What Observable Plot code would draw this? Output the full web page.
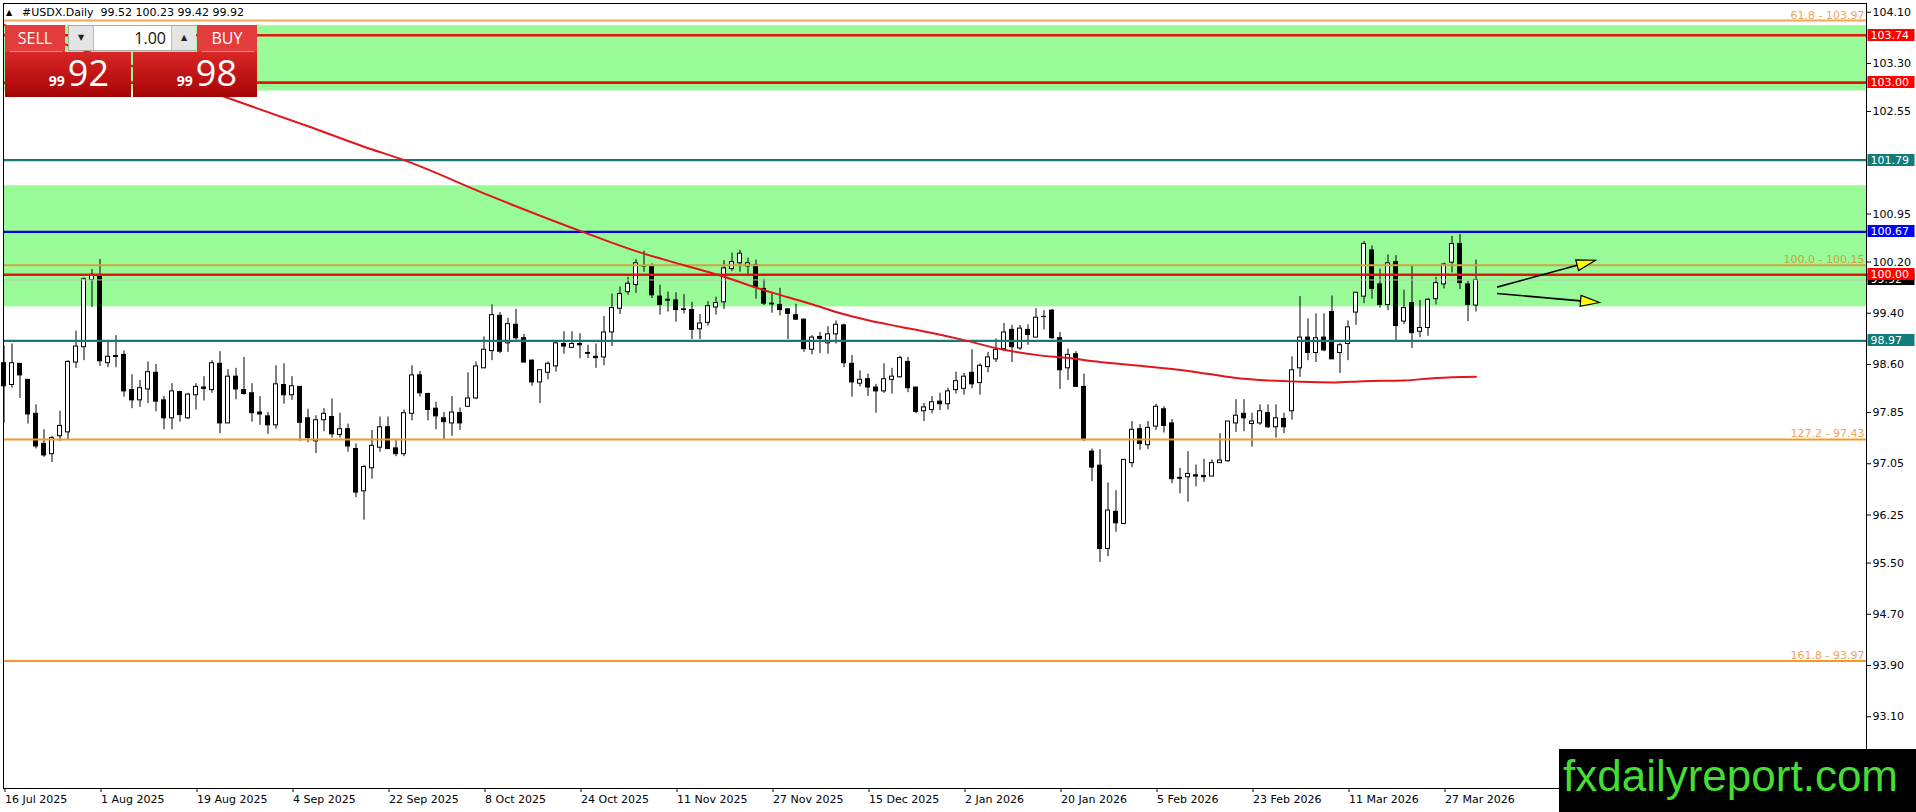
<!DOCTYPE html>
<html>
<head>
<meta charset="utf-8">
<script src="https://cdn.jsdelivr.net/npm/d3@7"></script>
<script src="https://cdn.jsdelivr.net/npm/@observablehq/plot@0.6"></script>
<style>
  html, body { margin: 0; padding: 0; background: #fff; overflow: hidden; }
  #wrap { position: relative; width: 1916px; height: 812px; overflow: hidden; }
  #chart { position: absolute; left: 0; top: 0; }
  #hdr { position: absolute; left: 6px; top: 6px; font: 11px "DejaVu Sans"; line-height: 14px; white-space: pre; color: #000; }
  #hdr .tri { font-size: 8px; display: inline-block; width: 16px; vertical-align: 1px; }
  #panel { position: absolute; left: 5px; top: 25px; width: 252px; height: 72px; }
  .hd { position: absolute; top: 0; height: 27px; width: 60px; background: #e23c3c; color: #fff; font: 16px "Open Sans"; line-height: 26px; text-align: center; }
  .hd .sep { position: absolute; left: 5px; right: 3px; bottom: 0; height: 1px; background: #f08a8a; }
  #lot { position: absolute; left: 63px; top: 0; width: 128px; height: 26px; background: #fff; border: 1px solid #a8a8a8; box-sizing: border-box; }
  #lot .btn { position: absolute; top: 0; width: 24px; height: 24px; background: #e4e4e4; font: 8px "DejaVu Sans"; line-height: 24px; text-align: center; color: #222; }
  #lot .fld { position: absolute; left: 25px; top: 0; width: 72px; height: 24px; text-align: right; font: 16px "Open Sans"; line-height: 24px; color: #111; }
  .big { position: absolute; top: 27px; height: 45px; background: linear-gradient(#da2626, #a60404); color: #fff; text-align: right; font: 36px "Open Sans"; line-height: 40px; box-sizing: border-box; padding-top: 1px; }
  .big .sm { font: bold 14px "Open Sans"; margin-right: 3px; }
  #logo { position: absolute; left: 1559px; top: 749px; width: 357px; height: 63px; background: #000; }
  #logo span { position: absolute; left: 4px; top: 5px; font: 44px "Liberation Sans"; line-height: 44px; color: #44dd33; white-space: nowrap; }
</style>
</head>
<body>
<div id="wrap">
  <div id="chart"></div>
  <div id="hdr"></div>
  <div id="panel">
    <div class="hd" style="left:0">SELL<div class="sep"></div></div>
    <div id="lot">
      <div class="btn" style="left:0;border-right:1px solid #bbb">▼</div>
      <div class="fld" id="lotv"></div>
      <div class="btn" style="left:102px;border-left:1px solid #bbb">▲</div>
    </div>
    <div class="hd" style="left:192px">BUY<div class="sep"></div></div>
    <div class="big" style="left:0;width:126px;padding-right:22px"><span class="sm" id="bidA"></span><span id="bidB"></span></div>
    <div class="big" style="left:128px;width:124px;padding-right:20px"><span class="sm" id="askA"></span><span id="askB"></span></div>
  </div>
  <div id="logo"><span>fxdailyreport.com</span></div>
</div>
<script>
// ---------------- DATA ----------------
const symbol = "#USDX.Daily";
const lotSize = 1.00;
const bidPrice = 99.92;
const askPrice = 99.98;

const xTickBars = [0, 12, 24, 36, 48, 60, 72, 84, 96, 108, 120, 132, 144, 156, 168, 180];
const xTickLabels = ["16 Jul 2025", "1 Aug 2025", "19 Aug 2025", "4 Sep 2025", "22 Sep 2025", "8 Oct 2025",
  "24 Oct 2025", "11 Nov 2025", "27 Nov 2025", "15 Dec 2025", "2 Jan 2026", "20 Jan 2026",
  "5 Feb 2026", "23 Feb 2026", "11 Mar 2026", "27 Mar 2026"];
const yTicks = [104.10, 103.30, 102.55, 100.95, 100.20, 99.40, 98.60, 97.85, 97.05, 96.25, 95.50, 94.70, 93.90, 93.10];

const open = [
  98.62, 98.28, 98.61, 98.36, 97.83, 97.36, 97.20, 97.48, 97.54, 98.63,
  98.87, 99.92, 99.99, 98.62, 98.73, 98.75, 98.20, 98.04, 98.21, 98.47,
  98.04, 97.76, 98.17, 97.76, 98.12, 98.24, 98.20, 98.61, 97.68, 98.41,
  98.20, 98.15, 97.85, 97.79, 97.65, 98.28, 98.12, 98.25, 97.76, 97.40,
  97.73, 97.78, 97.50, 97.59, 97.28, 96.62, 96.98, 97.30, 97.62, 97.29,
  97.20, 97.83, 98.43, 98.14, 97.91, 97.76, 97.68, 97.84, 97.94, 98.07,
  98.54, 98.81, 99.36, 98.93, 99.22, 99.01, 98.66, 98.32, 98.47, 98.57,
  98.92, 98.86, 98.92, 98.78, 98.72, 98.71, 99.10, 99.47, 99.73, 99.84,
  100.14, 100.13, 99.66, 99.61, 99.60, 99.46, 99.45, 99.15, 99.25, 99.49,
  99.57, 100.09, 100.18, 100.13, 100.15, 99.78, 99.55, 99.53, 99.46, 99.37,
  99.30, 98.83, 99.03, 98.93, 99.07, 99.21, 98.61, 98.30, 98.37, 98.24,
  98.18, 98.36, 98.40, 98.64, 98.24, 97.87, 97.89, 98.02, 97.98, 98.20,
  98.22, 98.47, 98.31, 98.56, 98.68, 98.84, 99.14, 98.85, 99.14, 99.02,
  99.35, 99.44, 99.01, 98.54, 98.76, 98.25, 97.24, 97.02, 95.72, 96.30,
  96.11, 97.06, 97.59, 97.34, 97.63, 97.90, 97.68, 96.83, 96.84, 96.87,
  96.86, 96.85, 97.06, 97.09, 97.68, 97.83, 97.67, 97.68, 97.84, 97.62,
  97.75, 97.87, 98.54, 99.02, 98.78, 99.02, 99.42, 98.78, 98.92, 99.41,
  99.66, 100.38, 99.85, 99.53, 100.20, 99.27, 99.56, 99.11, 99.17, 99.62,
  99.85, 100.19, 100.48, 99.85, 99.52];
const high = [
  98.89, 98.92, 98.61, 98.36, 97.97, 97.58, 97.48, 97.87, 98.66, 99.12,
  99.95, 100.08, 100.24, 98.97, 99.05, 98.81, 98.44, 98.35, 98.64, 98.60,
  98.10, 98.30, 98.18, 98.15, 98.30, 98.41, 98.66, 98.80, 98.52, 98.54,
  98.71, 98.30, 98.10, 97.85, 98.58, 98.61, 98.41, 98.26, 97.90, 97.80,
  97.91, 98.06, 97.84, 97.67, 97.36, 97.02, 97.57, 97.78, 97.78, 97.41,
  97.89, 98.58, 98.49, 98.15, 98.01, 97.85, 98.10, 97.92, 98.47, 98.64,
  99.03, 99.53, 99.41, 99.32, 99.46, 99.07, 98.67, 98.51, 98.64, 98.96,
  99.11, 99.11, 99.08, 98.90, 98.92, 99.35, 99.70, 99.81, 99.96, 100.24,
  100.37, 100.17, 99.84, 99.73, 99.72, 99.69, 99.57, 99.38, 99.58, 99.65,
  100.22, 100.34, 100.38, 100.26, 100.23, 99.93, 99.70, 99.79, 99.47, 99.54,
  99.31, 99.05, 99.10, 99.19, 99.28, 99.23, 98.74, 98.50, 98.45, 98.29,
  98.61, 98.54, 98.73, 98.71, 98.24, 97.99, 98.10, 98.15, 98.23, 98.48,
  98.46, 98.83, 98.61, 98.79, 99.00, 99.24, 99.21, 99.21, 99.22, 99.47,
  99.44, 99.46, 99.10, 98.84, 98.80, 98.45, 97.28, 97.27, 96.75, 96.63,
  97.12, 97.71, 97.66, 97.71, 97.98, 97.94, 97.74, 96.98, 97.24, 97.03,
  97.12, 97.11, 97.52, 97.71, 98.05, 98.05, 97.84, 97.97, 97.97, 97.97,
  97.84, 98.72, 99.66, 99.31, 99.39, 99.39, 99.67, 98.93, 99.28, 99.72,
  100.52, 100.45, 100.09, 100.31, 100.30, 99.76, 100.13, 99.60, 99.63, 99.96,
  100.18, 100.60, 100.63, 99.90, 100.23];
const low = [
  97.68, 98.23, 98.07, 97.67, 97.28, 97.15, 97.07, 97.40, 97.43, 98.54,
  98.66, 99.49, 98.57, 98.55, 98.55, 98.09, 97.91, 97.93, 97.99, 97.86,
  97.58, 97.58, 97.70, 97.74, 97.89, 98.03, 98.15, 97.52, 97.68, 98.05,
  98.12, 97.70, 97.65, 97.51, 97.59, 97.98, 98.04, 97.40, 97.38, 97.21,
  97.55, 97.45, 97.45, 97.23, 96.52, 96.17, 96.81, 97.23, 97.27, 97.16,
  97.16, 97.72, 98.09, 97.72, 97.58, 97.43, 97.48, 97.57, 97.93, 98.05,
  98.54, 98.66, 98.77, 98.79, 98.98, 98.63, 98.26, 97.99, 98.36, 98.48,
  98.76, 98.86, 98.69, 98.69, 98.54, 98.58, 98.88, 99.38, 99.68, 99.71,
  100.04, 99.63, 99.37, 99.42, 99.26, 99.39, 98.99, 98.99, 99.20, 99.37,
  99.46, 100.05, 100.04, 99.99, 99.62, 99.52, 99.40, 99.36, 98.99, 99.29,
  98.79, 98.75, 98.77, 98.76, 98.92, 98.55, 98.09, 98.25, 98.10, 97.84,
  98.15, 98.14, 98.39, 98.16, 97.83, 97.71, 97.83, 97.88, 97.89, 98.14,
  98.12, 98.22, 98.12, 98.47, 98.63, 98.80, 98.63, 98.82, 98.90, 99.02,
  99.14, 98.99, 98.21, 98.35, 98.24, 97.40, 96.77, 95.51, 95.60, 95.98,
  96.11, 96.99, 97.26, 97.27, 97.57, 97.53, 96.74, 96.58, 96.45, 96.69,
  96.76, 96.85, 97.06, 97.07, 97.54, 97.55, 97.31, 97.65, 97.60, 97.45,
  97.52, 97.73, 98.40, 98.66, 98.63, 98.80, 98.68, 98.46, 98.66, 99.21,
  99.55, 99.62, 99.48, 99.44, 98.96, 99.22, 98.85, 99.02, 99.04, 99.53,
  99.78, 100.03, 99.77, 99.27, 99.42];
const close = [
  98.26, 98.62, 98.43, 97.82, 97.32, 97.18, 97.45, 97.64, 98.64, 98.88,
  99.93, 100.00, 98.65, 98.72, 98.72, 98.18, 98.04, 98.23, 98.48, 98.02,
  97.76, 98.18, 97.81, 98.13, 98.25, 98.22, 98.62, 97.68, 98.41, 98.21,
  98.14, 97.84, 97.82, 97.65, 98.29, 98.12, 98.26, 97.69, 97.45, 97.73,
  97.83, 97.51, 97.59, 97.32, 96.60, 97.00, 97.33, 97.62, 97.28, 97.20,
  97.84, 98.43, 98.15, 97.89, 97.79, 97.70, 97.85, 97.68, 98.07, 98.57,
  98.83, 99.37, 98.80, 99.23, 99.01, 98.63, 98.32, 98.51, 98.61, 98.93,
  98.88, 98.92, 98.90, 98.77, 98.70, 99.10, 99.48, 99.70, 99.86, 100.18,
  100.14, 99.68, 99.53, 99.60, 99.45, 99.45, 99.14, 99.24, 99.51, 99.56,
  100.10, 100.20, 100.33, 100.18, 99.80, 99.55, 99.54, 99.45, 99.39, 99.30,
  98.84, 99.02, 99.00, 99.07, 99.22, 98.62, 98.32, 98.36, 98.24, 98.18,
  98.37, 98.41, 98.70, 98.23, 97.86, 97.93, 98.01, 97.98, 98.18, 98.34,
  98.41, 98.29, 98.58, 98.71, 98.83, 99.10, 98.87, 99.16, 99.06, 99.33,
  99.35, 99.01, 98.51, 98.75, 98.25, 97.42, 96.99, 95.72, 96.32, 96.12,
  97.11, 97.58, 97.36, 97.61, 97.94, 97.64, 96.81, 96.82, 96.89, 96.85,
  96.84, 97.06, 97.10, 97.71, 97.80, 97.76, 97.71, 97.87, 97.62, 97.76,
  97.62, 98.51, 99.02, 98.78, 99.01, 98.82, 98.68, 98.90, 99.18, 99.72,
  100.48, 99.78, 99.53, 100.18, 99.20, 99.48, 99.09, 99.17, 99.61, 99.87,
  100.16, 100.48, 99.87, 99.53, 99.92];

// moving average
const maBar = [0, 28, 38, 45, 50, 61, 73, 79, 85, 90, 94, 98, 101, 104, 108, 112, 116, 120, 125, 129, 133, 137, 142, 148, 154, 158, 162, 166, 170, 175, 179, 184];
const maValue = [103.90, 102.76, 102.32, 102.00, 101.79, 101.22, 100.64, 100.37, 100.15, 99.97, 99.80, 99.65, 99.54, 99.42, 99.29, 99.19, 99.09, 98.98, 98.83, 98.75, 98.70, 98.64, 98.58, 98.50, 98.39, 98.35, 98.33, 98.32, 98.34, 98.35, 98.39, 98.41];

// zones (green rectangles)
const zoneTop = [103.89, 101.39];
const zoneBottom = [102.87, 99.50];

// horizontal levels
const levelPrice = [103.74, 103.00, 101.79, 100.67, 100.00, 98.97];
const levelKind = ["red", "red", "teal", "blue", "red", "teal"];

// fibonacci levels
const fibRatio = ["61.8", "100.0", "127.2", "161.8"];
const fibPrice = [103.97, 100.15, 97.43, 93.97];

// arrows (bar index / price)
const arrowBar1 = [186.7, 186.7];
const arrowPrice1 = [99.80, 99.70];
const arrowBar2 = [199.0, 199.5];
const arrowPrice2 = [100.22, 99.56];

// ---------------- STYLES ----------------
const kindColor = { red: "#e3160c", teal: "#177878", blue: "#0000e6" };
const kindLabel = { red: "#ff0000", teal: "#117c7c", blue: "#0000ff" };
const fibLine = ["#f0a856", "#cfa53c", "#f39a2a", "#f39a2a"];
const fibText = ["#efa45a", "#c9a140", "#efa45a", "#efa45a"];

// ---------------- BUILD ----------------
const candles = open.map((o, i) => ({ i, open: o, high: high[i], low: low[i], close: close[i] }));
const up = candles.filter(d => d.close > d.open);
const down = candles.filter(d => d.close < d.open);
const doji = candles.filter(d => Math.abs(d.close - d.open) < 0.02);
const ma = maBar.map((b, k) => ({ bar: b, value: maValue[k] }));
const zones = zoneTop.map((t, k) => ({ top: t, bottom: zoneBottom[k] }));
const levels = levelPrice.map((p, k) => ({ price: p, kind: levelKind[k] }));
const fibs = fibPrice.map((p, k) => ({ price: p, label: `${fibRatio[k]} - ${p.toFixed(2)}`, k }));
const arrows = arrowBar1.map((b, k) => ({ x1: b, y1: arrowPrice1[k], x2: arrowBar2[k], y2: arrowPrice2[k] }));
const tickLabelOf = new Map(xTickBars.map((b, k) => [b, xTickLabels[k]]));

const xDomain = [-0.0625, 232.8125];
const yDomain = [91.98, 104.236];

const rightLabels = [{ price: bidPrice, bg: "#000000" }]
  .concat(levels.map(l => ({ price: l.price, bg: kindLabel[l.kind] })));

function labelMark(index, scales, values, dims) {
  const g = d3.create("svg:g").attr("font-family", "DejaVu Sans").attr("font-size", 11).attr("text-anchor", "start");
  const x0 = dims.width - dims.marginRight + 1.5;
  for (const d of rightLabels) {
    const yy = scales.y(d.price);
    g.append("rect").attr("x", x0).attr("y", Math.round(yy) - 6).attr("width", 47).attr("height", 12).attr("fill", d.bg);
    g.append("text").attr("x", x0 + 3).attr("y", Math.round(yy) + 0.5).attr("dy", "0.36em")
      .attr("text-anchor", "start").attr("fill", "#fff").text(d.price.toFixed(2));
  }
  return g.node();
}

function arrowMark(index, scales) {
  const g = d3.create("svg:g");
  for (const a of arrows) {
    const xa = scales.x(a.x1), ya = scales.y(a.y1), xb = scales.x(a.x2), yb = scales.y(a.y2);
    const len = Math.hypot(xb - xa, yb - ya), ux = (xb - xa) / len, uy = (yb - ya) / len;
    const L = 19, Wd = 5.5;
    const bx = xb - ux * L, by = yb - uy * L;
    g.append("line").attr("x1", xa).attr("y1", ya).attr("x2", bx).attr("y2", by).attr("stroke", "#000").attr("stroke-width", 1.6);
    g.append("path")
      .attr("d", `M${xb},${yb}L${bx - uy * Wd},${by + ux * Wd}L${bx + uy * Wd},${by - ux * Wd}Z`)
      .attr("fill", "#ffff00").attr("stroke", "#000").attr("stroke-width", 1.2).attr("stroke-linejoin", "miter");
  }
  return g.node();
}

const chart = Plot.plot({
  width: 1916,
  height: 812,
  marginTop: 3,
  marginBottom: 24,
  marginLeft: 3,
  marginRight: 50,
  x: { type: "linear", domain: xDomain, axis: null },
  y: { domain: yDomain, axis: null },
  style: { fontFamily: "DejaVu Sans", fontSize: "11px", color: "#000", background: "#fff", overflow: "visible" },
  marks: [
    Plot.rect(zones, { x1: () => xDomain[0], x2: () => xDomain[1], y1: "bottom", y2: "top", fill: "#98fb98" }),
    // candles
    Plot.ruleX(candles, { x: "i", y1: "low", y2: "high", stroke: "#000", strokeWidth: 1 }),
    Plot.rect(up, { x1: d => d.i - 0.25, x2: d => d.i + 0.25, y1: "open", y2: "close", fill: "#fff", stroke: "#000", strokeWidth: 1 }),
    Plot.rect(down, { x1: d => d.i - 0.25, x2: d => d.i + 0.25, y1: "open", y2: "close", fill: "#000", stroke: "#000", strokeWidth: 1 }),
    Plot.ruleY(doji, { y: "open", x1: d => d.i - 0.3, x2: d => d.i + 0.3, stroke: "#000", strokeWidth: 1.2 }),
    // bid line
    Plot.ruleY([bidPrice], { stroke: "#c4c4c4", strokeWidth: 1 }),
    // fib lines + labels
    ...fibs.map(f => Plot.ruleY([f.price], { stroke: fibLine[f.k], strokeWidth: 2 })),
    ...fibs.map(f => Plot.text([f], { y: "price", text: "label", frameAnchor: "right", textAnchor: "end", lineAnchor: "bottom", dx: -2, dy: -2, fill: fibText[f.k], fontSize: 11 })),
    // horizontal levels
    ...levels.map(l => Plot.ruleY([l.price], { stroke: kindColor[l.kind], strokeWidth: l.kind === "red" ? 2.6 : 2.2 })),
    // moving average
    Plot.line(ma, { x: "bar", y: "value", stroke: "#e0161a", strokeWidth: 2, curve: "monotone-x" }),
    // arrows
    arrowMark,
    Plot.frame({ stroke: "#000", strokeWidth: 1 }),
    Plot.axisX({ ticks: xTickBars, tickFormat: d => tickLabelOf.get(d), textAnchor: "start", dx: 1, tickSize: 4, tickPadding: 3, fontSize: 11 }),
    Plot.axisY({ anchor: "right", ticks: yTicks, tickFormat: d => d.toFixed(2), tickSize: 4, tickPadding: 2, fontSize: 11 }),
    labelMark
  ]
});
document.getElementById("chart").appendChild(chart);

// overlays
const last = candles.length - 1;
document.getElementById("hdr").innerHTML =
  `<span class="tri">▲</span>${symbol}  ${open[last].toFixed(2)} ${high[last].toFixed(2)} ${low[last].toFixed(2)} ${close[last].toFixed(2)}`;
document.getElementById("lotv").textContent = lotSize.toFixed(2);
const split = p => { const s = p.toFixed(2).split("."); return [s[0], s[1]]; };
const [ba, bb] = split(bidPrice), [aa, ab] = split(askPrice);
document.getElementById("bidA").textContent = ba;
document.getElementById("bidB").textContent = bb;
document.getElementById("askA").textContent = aa;
document.getElementById("askB").textContent = ab;
</script>
</body>
</html>
